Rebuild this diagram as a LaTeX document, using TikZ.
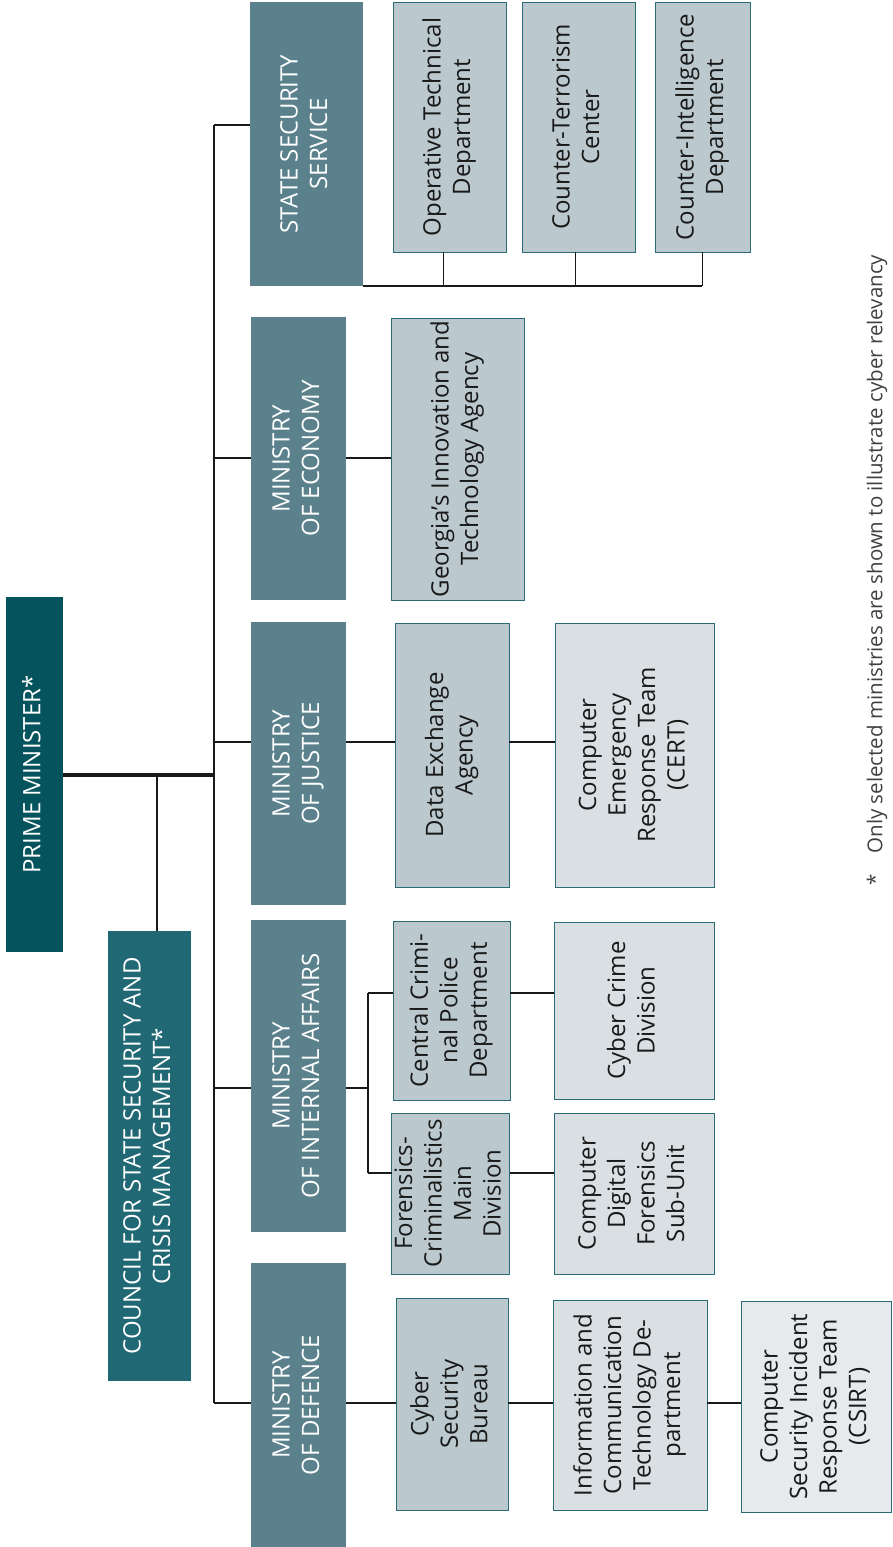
\documentclass[tikz,border=0pt]{standalone}
\usepackage{fontspec}
\usepackage{graphicx}
\setmainfont{Open Sans}
\definecolor{pmc}{HTML}{04535D}
\definecolor{cnc}{HTML}{1F6874}
\definecolor{minc}{HTML}{5A818C}
\definecolor{darksub}{HTML}{BBC9CE}
\definecolor{lightsub}{HTML}{D9DFE2}
\definecolor{palesub}{HTML}{E6EAEC}
\definecolor{bordc}{HTML}{2A6C75}
\newcommand{\rtxt}[1]{\rotatebox{90}{\fontsize{24}{29.5}\selectfont\begin{tabular}{@{}c@{}}#1\end{tabular}}}
\newcommand{\bx}[7]{\node[#2, minimum width={#5-#3}, minimum height={#6-#4}] (#1) at ({(#3+#5)/2},{(#4+#6)/2}) {#7};}
\begin{document}
\begin{tikzpicture}[x=1pt,y=-1pt,
  base/.style={rectangle, inner sep=0pt, outer sep=0pt, align=center},
  topbox/.style={base, fill=pmc, text=white},
  cncbox/.style={base, fill=cnc, text=white},
  minbox/.style={base, fill=minc, text=white},
  dsub/.style={base, fill=darksub, draw=bordc, line width=1pt, text=black!90},
  lsub/.style={base, fill=lightsub, draw=bordc, line width=1pt, text=black!90},
  psub/.style={base, fill=palesub, draw=bordc, line width=1pt, text=black!90},
  conn/.style={draw=black!90, line width=1.6pt},
  thickconn/.style={draw=black!90, line width=4pt}]
\useasboundingbox (0,0) rectangle (892,1547);
% top level
\bx{pm}{topbox}{6}{597}{63}{952}{\rtxt{PRIME MINISTER*}}
\bx{cnc}{cncbox}{108}{931}{191}{1381}{\rtxt{COUNCIL FOR STATE SECURITY AND\\CRISIS MANAGEMENT*}}
% ministries
\bx{sss}{minbox}{250}{2}{363}{286}{\rtxt{STATE SECURITY\\SERVICE}}
\bx{eco}{minbox}{251}{317}{346}{600}{\rtxt{MINISTRY\\OF ECONOMY}}
\bx{jus}{minbox}{251}{622}{346}{905}{\rtxt{MINISTRY\\OF JUSTICE}}
\bx{int}{minbox}{251}{920}{346}{1232}{\rtxt{MINISTRY\\OF INTERNAL AFFAIRS}}
\bx{def}{minbox}{251}{1263}{346}{1547}{\rtxt{MINISTRY\\OF DEFENCE}}
% SSS subunits
\bx{otd}{dsub}{393}{2}{506}{252}{\rtxt{Operative Technical\\Department}}
\bx{ctc}{dsub}{522}{2}{635}{252}{\rtxt{Counter-Terrorism\\Center}}
\bx{cid}{dsub}{655}{2}{750}{252}{\rtxt{Counter-Intelligence\\Department}}
% Economy
\bx{gita}{dsub}{391}{318}{524}{600}{\rtxt{Georgia's Innovation and\\Technology Agency}}
% Justice
\bx{dea}{dsub}{395}{623}{509}{887}{\rtxt{Data Exchange\\Agency}}
\bx{cert}{lsub}{555}{623}{714}{887}{\rtxt{Computer\\Emergency\\Response Team\\(CERT)}}
% Internal affairs
\bx{ccpd}{dsub}{393}{921}{510}{1100}{\rtxt{Central Crimi-\\nal Police\\Department}}
\bx{ccd}{lsub}{554}{922}{714}{1099}{\rtxt{Cyber Crime\\Division}}
\bx{fcmd}{dsub}{393}{1113}{508}{1274}{\rtxt{Forensics-\\Criminalistics\\Main\\Division}}
\bx{cdfs}{lsub}{554}{1113}{714}{1274}{\rtxt{Computer\\Digital\\Forensics\\Sub-Unit}}
% Defence
\bx{csb}{dsub}{396}{1298}{508}{1510}{\rtxt{Cyber\\Security\\Bureau}}
\bx{ict}{lsub}{553}{1300}{707}{1510}{\rtxt{Information and\\Communication\\Technology De-\\partment}}
\bx{csirt}{psub}{741}{1301}{891}{1512}{\rtxt{Computer\\Security Incident\\Response Team\\(CSIRT)}}
% spine coordinates
\coordinate (s1) at (214,125);
\coordinate (s2) at (214,458);
\coordinate (s3) at (214,742);
\coordinate (s4) at (214,1088);
\coordinate (s5) at (214,1403);
\coordinate (pmj) at (214,775);
\coordinate (cj) at (157,775);
\coordinate (ib) at (368,1088);
\coordinate (ibt) at (368,993);
\coordinate (ibb) at (368,1173);
\coordinate (bus) at (702,286);
% connectors
\draw[conn] (s1) -- (s5);
\draw[thickconn] (pm.east |- pmj) -- (pmj);
\draw[conn] (cj) -- (cj |- cnc.north);
\draw[conn] (s1) -- (sss.west |- s1);
\draw[conn] (s2) -- (eco.west |- s2);
\draw[conn] (s3) -- (jus.west |- s3);
\draw[conn] (s4) -- (int.west |- s4);
\draw[conn] (s5) -- (def.west |- s5);
\draw[conn] (sss.south east) -- (bus);
\draw[conn] ([xshift=-6pt]otd.south) -- ([xshift=-6pt]otd.south |- bus);
\draw[conn] ([xshift=-3pt]ctc.south) -- ([xshift=-3pt]ctc.south |- bus);
\draw[conn] (cid.south) -- (cid.south |- bus);
\draw[conn] (eco.east |- s2) -- (gita.west |- s2);
\draw[conn] (jus.east |- s3) -- (dea.west |- s3);
\draw[conn] (dea.east |- s3) -- (cert.west |- s3);
\draw[conn] (int.east |- ib) -- (ib);
\draw[conn] (ibt) -- (ibb);
\draw[conn] (ibt) -- (ccpd.west |- ibt);
\draw[conn] (ibb) -- (fcmd.west |- ibb);
\draw[conn] (ccpd.east |- ibt) -- (ccd.west |- ibt);
\draw[conn] (fcmd.east |- ibb) -- (cdfs.west |- ibb);
\draw[conn] (def.east |- s5) -- (csb.west |- s5);
\draw[conn] (csb.east |- s5) -- (ict.west |- s5);
\draw[conn] (ict.east |- s5) -- (csirt.west |- s5);
% footnote
\node[base, text=black!75] (fn) at (877,570) {\rotatebox{90}{\fontsize{20.5}{24}\selectfont *\quad Only selected ministries are shown to illustrate cyber relevancy}};
\end{tikzpicture}
\end{document}
